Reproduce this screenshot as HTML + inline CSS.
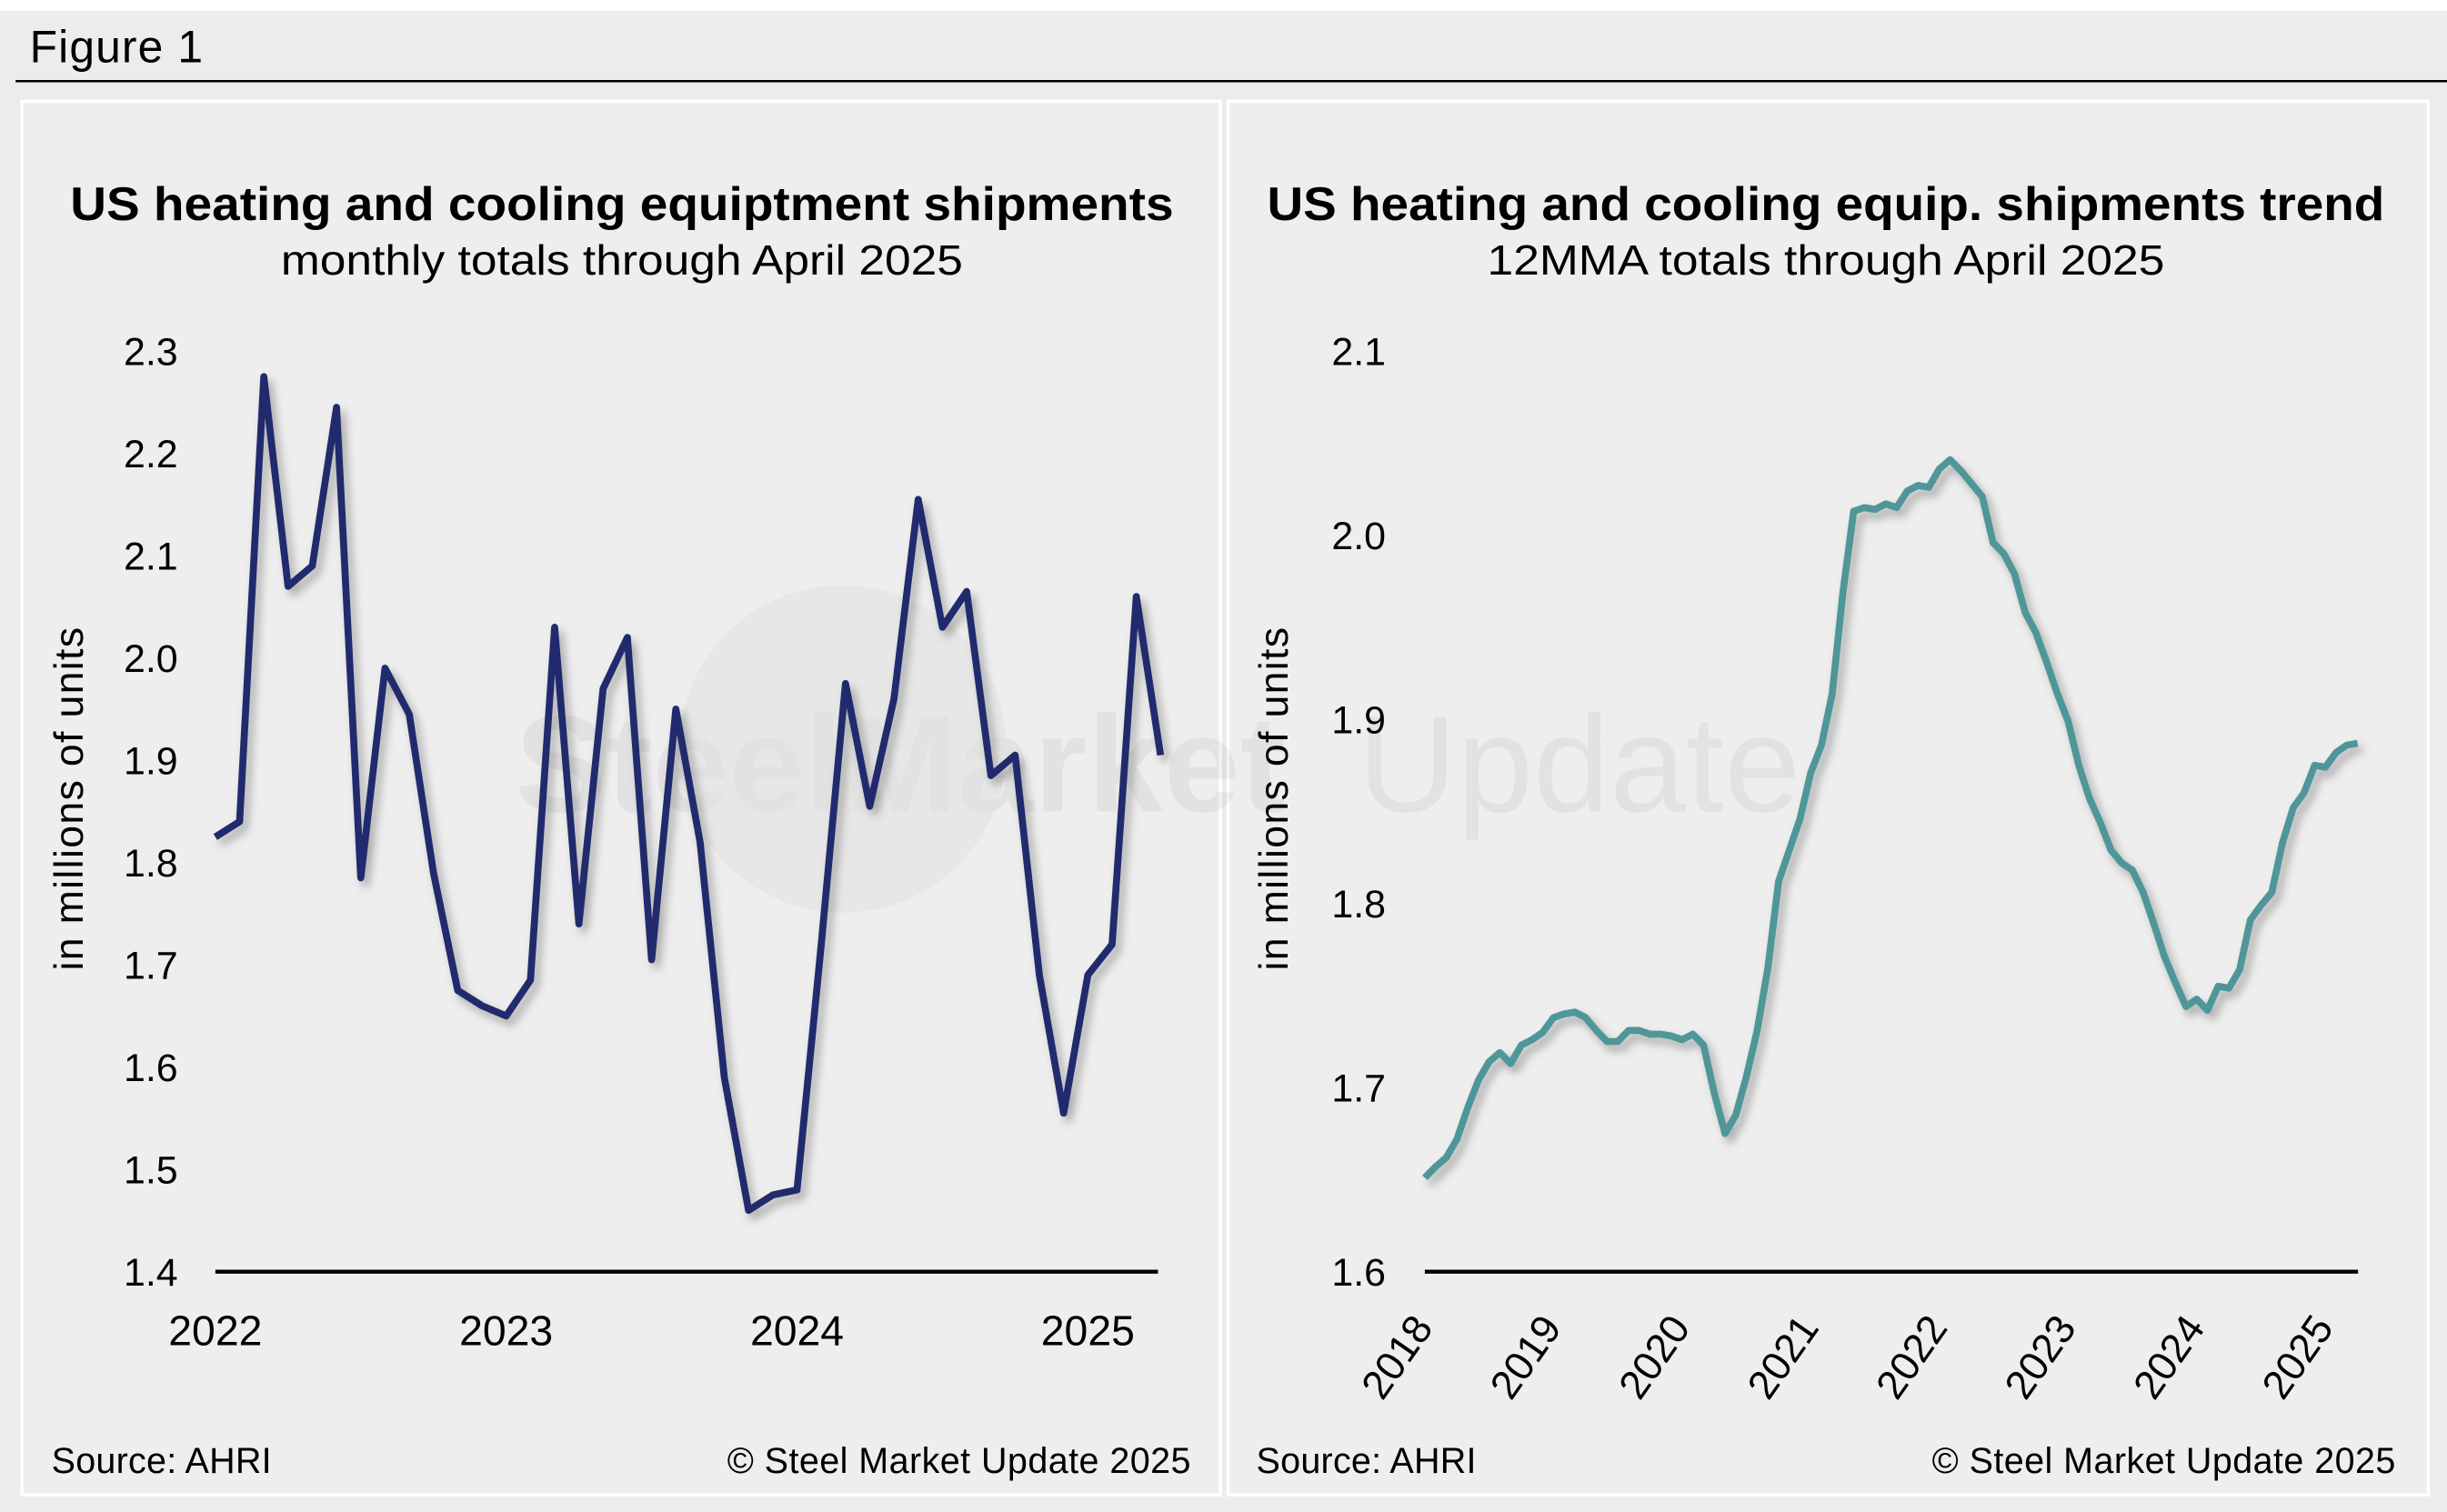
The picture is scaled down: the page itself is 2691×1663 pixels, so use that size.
<!DOCTYPE html>
<html><head><meta charset="utf-8"><style>
html,body{margin:0;padding:0;background:#fff;}
svg{display:block;font-family:"Liberation Sans",sans-serif;}
</style></head><body>
<svg id="fig" width="2691" height="1663" viewBox="0 0 1568 969" preserveAspectRatio="none">
<defs><filter id="sh" x="-5%" y="-5%" width="110%" height="110%"><feDropShadow dx="3" dy="4" stdDeviation="3" flood-color="#000" flood-opacity="0.3"/></filter></defs>
<rect x="0" y="7" width="1568" height="962" fill="#ececec"/>
<text x="19" y="40" font-size="29" textLength="111">Figure 1</text>
<line x1="10" y1="52" x2="1568" y2="52" stroke="#000" stroke-width="1.5"/>
<rect x="14" y="65" width="768" height="893" fill="#eeeeee" stroke="#fff" stroke-width="2"/>
<rect x="787" y="65" width="769" height="893" fill="#eeeeee" stroke="#fff" stroke-width="2"/>
<g opacity="0.07">
<circle cx="540" cy="480" r="105" fill="#999"/>
<text x="330" y="520" font-size="88" font-weight="bold" fill="#555">SteelMarket</text>
<text x="870" y="520" font-size="88" fill="#555">Update</text>
</g>
<text x="45" y="141" font-size="30" font-weight="bold" textLength="707" lengthAdjust="spacingAndGlyphs">US heating and cooling equiptment shipments</text>
<text x="180" y="176" font-size="27" textLength="437" lengthAdjust="spacingAndGlyphs">monthly totals through April 2025</text>
<text x="812" y="141" font-size="30" font-weight="bold" textLength="716" lengthAdjust="spacingAndGlyphs">US heating and cooling equip. shipments trend</text>
<text x="953" y="176" font-size="27" textLength="434" lengthAdjust="spacingAndGlyphs">12MMA totals through April 2025</text>
<text transform="translate(53,512) rotate(-90)" font-size="26" text-anchor="middle" textLength="220">in millions of units</text>
<text transform="translate(825,512) rotate(-90)" font-size="26" text-anchor="middle" textLength="220">in millions of units</text>
<text x="33" y="944" font-size="23" textLength="141">Source: AHRI</text>
<text x="466" y="944" font-size="23" textLength="297">© Steel Market Update 2025</text>
<text x="805" y="944" font-size="23" textLength="141">Source: AHRI</text>
<text x="1238" y="944" font-size="23" textLength="297">© Steel Market Update 2025</text>
<g id="left"></g><g id="right"></g>
</svg>
<script>
const leftValues=[1.825,1.84,2.275,2.07,2.09,2.245,1.785,1.99,1.945,1.79,1.675,1.66,1.65,1.685,2.03,1.74,1.97,2.02,1.705,1.95,1.82,1.59,1.46,1.475,1.48,1.72,1.975,1.855,1.96,2.155,2.03,2.065,1.885,1.905,1.69,1.555,1.69,1.72,2.06,1.905];
const leftYTicks=[1.4,1.5,1.6,1.7,1.8,1.9,2.0,2.1,2.2,2.3];
const leftXLabels=["2022","2023","2024","2025"];
const rightValues=[1.651,1.657,1.662,1.672,1.689,1.704,1.714,1.719,1.713,1.723,1.726,1.730,1.738,1.740,1.741,1.738,1.731,1.725,1.725,1.731,1.731,1.729,1.729,1.728,1.726,1.729,1.723,1.697,1.675,1.685,1.706,1.731,1.765,1.812,1.829,1.846,1.871,1.886,1.914,1.969,2.013,2.015,2.014,2.017,2.015,2.024,2.027,2.026,2.036,2.041,2.035,2.028,2.021,1.996,1.990,1.979,1.958,1.947,1.931,1.914,1.899,1.875,1.857,1.844,1.829,1.822,1.818,1.806,1.789,1.771,1.757,1.744,1.748,1.742,1.755,1.754,1.764,1.791,1.799,1.806,1.833,1.852,1.860,1.875,1.874,1.882,1.886,1.887];
const rightYTicks=[1.6,1.7,1.8,1.9,2.0,2.1];
const rightXLabels=["2018","2019","2020","2021","2022","2023","2024","2025"];
const NS="http://www.w3.org/2000/svg";
function mk(p,t,a){const e=document.createElementNS(NS,t);for(const k in a)e.setAttribute(k,a[k]);p.appendChild(e);return e;}
(function(){
const g=document.getElementById('left');
const x0=138,mw=15.53,ymin=1.4,ymax=2.3,yb=815,yt=225;
const X=i=>x0+i*mw, Y=v=>yb-(v-ymin)/(ymax-ymin)*(yb-yt);
leftYTicks.forEach(v=>{const t=mk(g,'text',{x:114,y:Y(v)+9,'font-size':25,'text-anchor':'end'});t.textContent=v.toFixed(1);

});
const ax=mk(g,'line',{x1:138,y1:yb,x2:742,y2:yb,stroke:'#000','stroke-width':2.5});


leftXLabels.forEach((l,k)=>{const t=mk(g,'text',{x:X(k*12),y:862,'font-size':27,'text-anchor':'middle'});t.textContent=l;

});
const p=mk(g,'polyline',{points:leftValues.map((v,i)=>X(i)+','+Y(v)).join(' '),fill:'none',stroke:'#232c6e','stroke-width':4.5,'stroke-linejoin':'round',filter:'url(#sh)'});


})();
(function(){
const g=document.getElementById('right');
const x0=913,mw=6.87,ymin=1.6,ymax=2.1,yb=815,yt=225;
const X=i=>x0+i*mw, Y=v=>yb-(v-ymin)/(ymax-ymin)*(yb-yt);
rightYTicks.forEach(v=>{const t=mk(g,'text',{x:888,y:Y(v)+9,'font-size':25,'text-anchor':'end'});t.textContent=v.toFixed(1);

});
const ax=mk(g,'line',{x1:913,y1:yb,x2:1511,y2:yb,stroke:'#000','stroke-width':2.5});


rightXLabels.forEach((l,k)=>{const x=X(k*12)+6;const t=mk(g,'text',{x:x,y:851,'font-size':26,'text-anchor':'end',transform:'rotate(-55 '+x+' 851)'});t.textContent=l;

});
const p=mk(g,'polyline',{points:rightValues.map((v,i)=>X(i)+','+Y(v)).join(' '),fill:'none',stroke:'#4f9699','stroke-width':4.5,'stroke-linejoin':'round',filter:'url(#sh)'});


})();
</script>
</body></html>
